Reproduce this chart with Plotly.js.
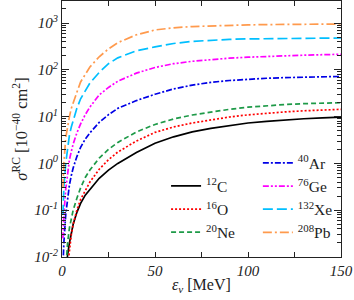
<!DOCTYPE html>
<html><head><meta charset="utf-8">
<script src="https://cdn.plot.ly/plotly-3.0.1.min.js"></script>
<style>html,body{margin:0;padding:0;background:#fff}#g{width:354px;height:300px}</style>
</head><body><div id="g"></div>
<script>
const energy = [0.5,1,2,3,4,5,6,8,10,12.5,15,20,25,30,40,50,60,70,80,90,100,110,120,130,140,150];
const sigC  = [null,null,0.004,0.011,0.02,0.032,0.05,0.09,0.14,0.21,0.28,0.48,0.72,1.0,1.7,2.7,3.7,4.7,5.6,6.5,7.3,7.9,8.5,9.0,9.4,9.7];
const sigO  = [null,null,null,0.006,0.015,0.03,0.05,0.1,0.17,0.27,0.4,0.75,1.2,1.75,3.0,4.6,6.0,7.3,8.6,9.8,10.9,11.8,12.6,13.3,13.9,14.3];
const sigNe = [null,null,0.005,0.02,0.042,0.07,0.1,0.18,0.3,0.5,0.72,1.3,2.0,2.8,4.7,6.8,8.9,10.8,12.5,14.3,15.9,17.1,18.1,18.9,19.4,19.8];
const sigAr = [0.006,0.02,0.08,0.19,0.35,0.55,0.8,1.4,2.2,3.3,4.5,7.5,11,15,22,30,39,47,54,59,63,66,68,70,71,72];
const sigGe = [0.025,0.08,0.28,0.65,1.2,1.8,2.6,4.5,7,11,16,29,42,57,85,112,135,152,166,177,186,194,200,205,210,214];
const sigXe = [0.08,0.3,1,2.2,4,6,8.5,15,24,36,52,88,135,180,255,308,365,405,430,447,457,464,469,473,476,478];
const sigPb = [0.3,1,3.5,6.5,10,15,20,33,55,80,115,190,280,380,560,710,790,840,872,895,912,925,935,942,948,952];
const names = ['<sup>12</sup>C','<sup>16</sup>O','<sup>20</sup>Ne','<sup>40</sup>Ar','<sup>76</sup>Ge','<sup>132</sup>Xe','<sup>208</sup>Pb'];
const xTicks = [0,50,100,150];
const xTickText = ['<i>0</i>','<i>50</i>','<i>100</i>','<i>150</i>'];
const yTicks = [0.01,0.1,1,10,100,1000];
const yTickText = ['<i>10<sup>-2</sup></i>','<i>10<sup>-1</sup></i>','<i>10<sup>0</sup></i>','<i>10<sup>1</sup></i>','<i>10<sup>2</sup></i>','<i>10<sup>3</sup></i>'];
const xTitle = '<i>ε<sub>ν</sub></i> [MeV]';
const yTitle = '<i>σ</i><sup>RC</sup> [10<sup>−40</sup> cm<sup>2</sup>]';

const serif = 'Liberation Serif, Times New Roman, serif';
function tr(y, name, color, dash, leg){
  return {x: energy, y: y, name: name, type:'scatter', mode:'lines', connectgaps:false,
    line:{color:color, width:1.7, dash:dash}, legend: leg};
}
const data = [
  tr(sigC, names[0], '#000000', 'solid', 'legend'),
  tr(sigO, names[1], '#ff0000', '2px,2px', 'legend'),
  tr(sigNe, names[2], '#1e9a48', '5px,3px', 'legend'),
  tr(sigAr, names[3], '#0000e6', '6px,2px,2px,2px', 'legend2'),
  tr(sigGe, names[4], '#ff00ff', '6px,2px,2px,2px,2px,2px', 'legend2'),
  tr(sigXe, names[5], '#00bfff', '10px,4px', 'legend2'),
  tr(sigPb, names[6], '#ff9a4d', '9px,3px,2px,3px', 'legend2')
];
const axLine = {showline:true, linecolor:'#222', linewidth:1, mirror:'allticks', ticks:'inside',
  tickcolor:'#222', showgrid:false, zeroline:false};
const layout = {
  width:354, height:300, margin:{l:62, r:13, t:1, b:43},
  paper_bgcolor:'#fff', plot_bgcolor:'#fff', showlegend:true,
  font:{family:serif, color:'#222', size:14},
  xaxis: Object.assign({}, axLine, {range:[0,150], tickmode:'array', tickvals:xTicks, ticktext:xTickText, ticklen:5,
    minor:{dtick:25, ticks:'inside', ticklen:5, tickcolor:'#222'},
    tickfont:{family:serif, size:15, color:'#222'}}),
  yaxis: Object.assign({}, axLine, {type:'log', range:[-2,3.47], tickmode:'array', tickvals:yTicks, ticktext:yTickText, ticklen:7,
    minor:{dtick:'D1', ticks:'inside', ticklen:4, tickcolor:'#222'},
    tickfont:{family:serif, size:15, color:'#222'},
    title:{text:yTitle, font:{family:serif, size:16.5, color:'#222'}, standoff:2}}),
  annotations:[{text:xTitle, xref:'paper', yref:'paper', x:0.5, y:-0.11, xanchor:'center', yanchor:'middle',
    showarrow:false, font:{family:serif, size:16, color:'#222'}}],
  legend:{x:0.373, xanchor:'left', y:0.03, yanchor:'bottom', bgcolor:'rgba(0,0,0,0)',
    font:{family:serif, size:15.5, color:'#222'}, tracegroupgap:0},
  legend2:{x:0.702, xanchor:'left', y:0.03, yanchor:'bottom', bgcolor:'rgba(0,0,0,0)',
    font:{family:serif, size:15.5, color:'#222'}, tracegroupgap:0}
};
Plotly.newPlot('g', data, layout, {displayModeBar:false, staticPlot:true});
</script></body></html>
